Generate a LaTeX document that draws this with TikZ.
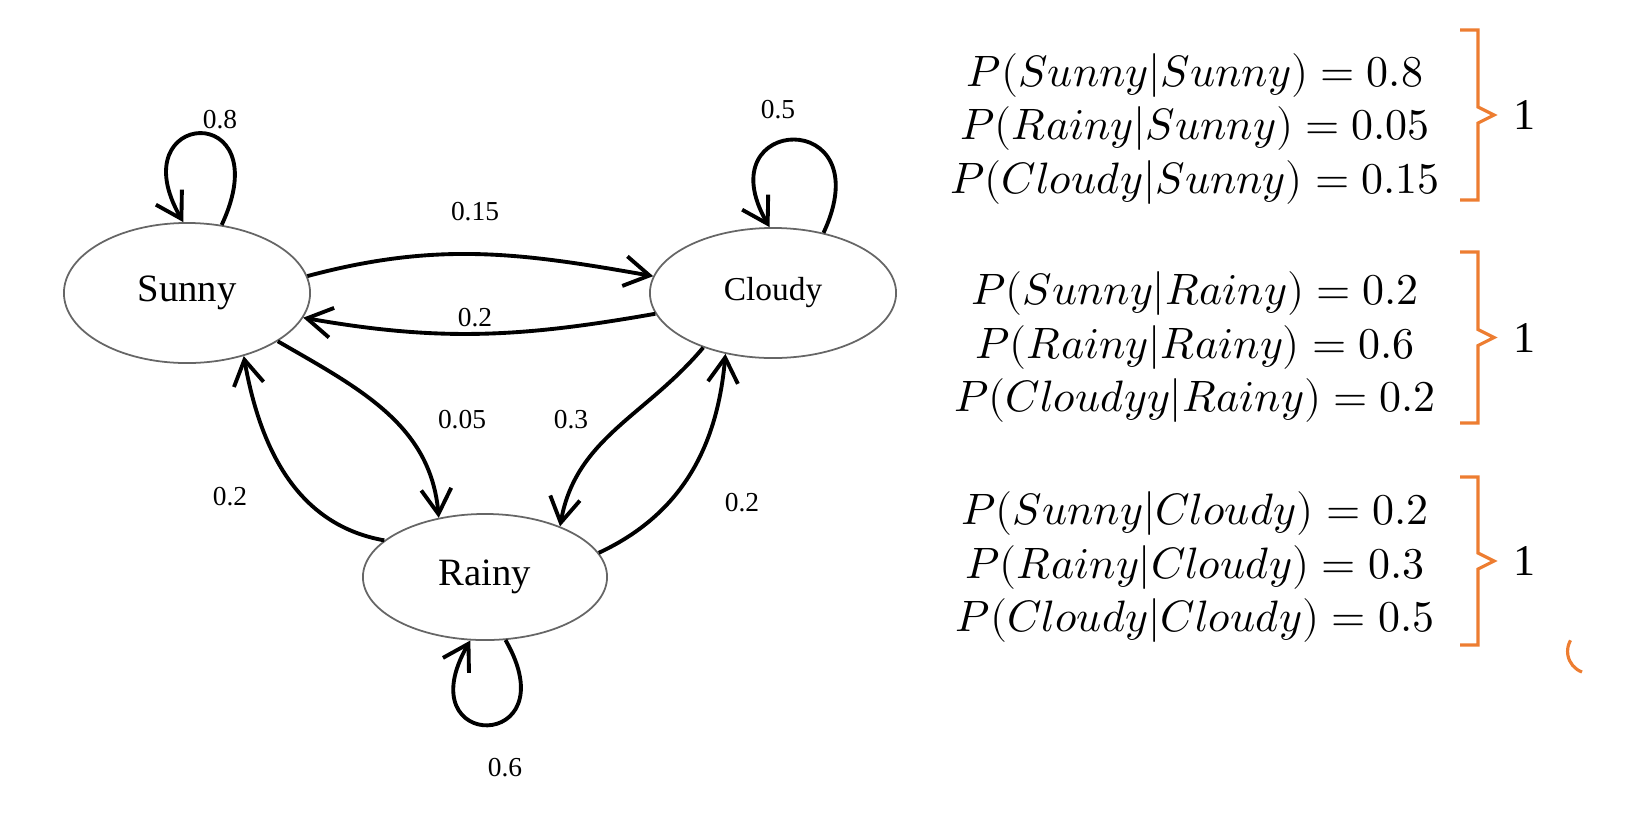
\documentclass[tikz,border=0pt]{standalone}
\usepackage{fontspec}
\setmainfont{Liberation Serif}
\usepackage{unicode-math}
\setmathfont{Latin Modern Math}
\usetikzlibrary{shapes.geometric,arrows.meta}
\definecolor{brk}{RGB}{237,125,49}
\begin{document}
\begin{tikzpicture}[x=0.01cm,y=-0.01cm,
  st/.style={ellipse,draw=black!60,line width=0.5pt,inner sep=0pt,font=\fontsize{11}{13}\selectfont},
  ed/.style={line width=1.1pt,-{Straight Barb[length=2.5mm,width=3mm]}},
  lb/.style={font=\fontsize{7.8}{9}\selectfont},
  eq/.style={align=center,font=\fontsize{12.5}{15.3}\selectfont},
  br/.style={draw=brk,line width=0.9pt}]
\useasboundingbox (0,0) rectangle (1634,830);
\node[st,minimum width=2.46cm,minimum height=1.4cm] (S) at (187,293) {Sunny};
\node[st,minimum width=2.46cm,minimum height=1.3cm,font=\fontsize{9.5}{11}\selectfont] (C) at (773,293) {Cloudy};
\node[st,minimum width=2.44cm,minimum height=1.26cm] (R) at (485,577) {Rainy};
% loops
\draw[ed] (S.63) .. controls +(65:1.4cm) and +(120:1.3cm) .. (S.93);
\draw[ed] (C.50) .. controls +(65:1.4cm) and +(120:1.3cm) .. (C.93);
\draw[ed] (R.-72) .. controls +(-60:1.3cm) and +(-120:1.3cm) .. (R.-103);
% edges
\draw[ed] (S.8) to[out=15,in=170] (C.172);
\draw[ed] (C.190) to[out=190,in=-10] (S.-12);
\draw[ed] (S.-28) to[out=-30,in=95] (R.128);
\draw[ed] (R.160) to[out=170,in=-80] (S.-48);
\draw[ed] (C.218) to[out=-130,in=80] (R.34);
\draw[ed] (R.12) to[out=25,in=-95] (C.232);
% labels
\node[lb] (l1) at (220,120) {0.8};
\node[lb] (l2) at (778,110) {0.5};
\node[lb] (l3) at (505,768) {0.6};
\node[lb] (l4) at (475,212) {0.15};
\node[lb] (l5) at (475,318) {0.2};
\node[lb] (l6) at (462,420) {0.05};
\node[lb] (l7) at (571,420) {0.3};
\node[lb] (l8) at (230,497) {0.2};
\node[lb] (l9) at (742,503) {0.2};
% equations
\node[eq] (e1) at (1195,129) {$P(Sunny|Sunny)=0.8$\\$P(Rainy|Sunny)=0.05$\\$P(Cloudy|Sunny)=0.15$};
\node[eq] (e2) at (1195,347) {$P(Sunny|Rainy)=0.2$\\$P(Rainy|Rainy)=0.6$\\$P(Cloudyy|Rainy)=0.2$};
\node[eq] (e3) at (1195,567) {$P(Sunny|Cloudy)=0.2$\\$P(Rainy|Cloudy)=0.3$\\$P(Cloudy|Cloudy)=0.5$};
% brackets
\foreach \t/\b/\n in {30/200/a,252/423/b,477/645/c}{
  \draw[br] (1460,\t) -- (1478,\t) -- (1478,{(\t+\b)/2-8}) -- (1494,{(\t+\b)/2}) -- (1478,{(\t+\b)/2+8}) -- (1478,\b) -- (1460,\b);
  \node[font=\fontsize{12.5}{14}\selectfont] (one\n) at (1524,{(\t+\b)/2}) {1};
}
\draw[br] (1582,672) arc (110:210:22);
\end{tikzpicture}
\end{document}
